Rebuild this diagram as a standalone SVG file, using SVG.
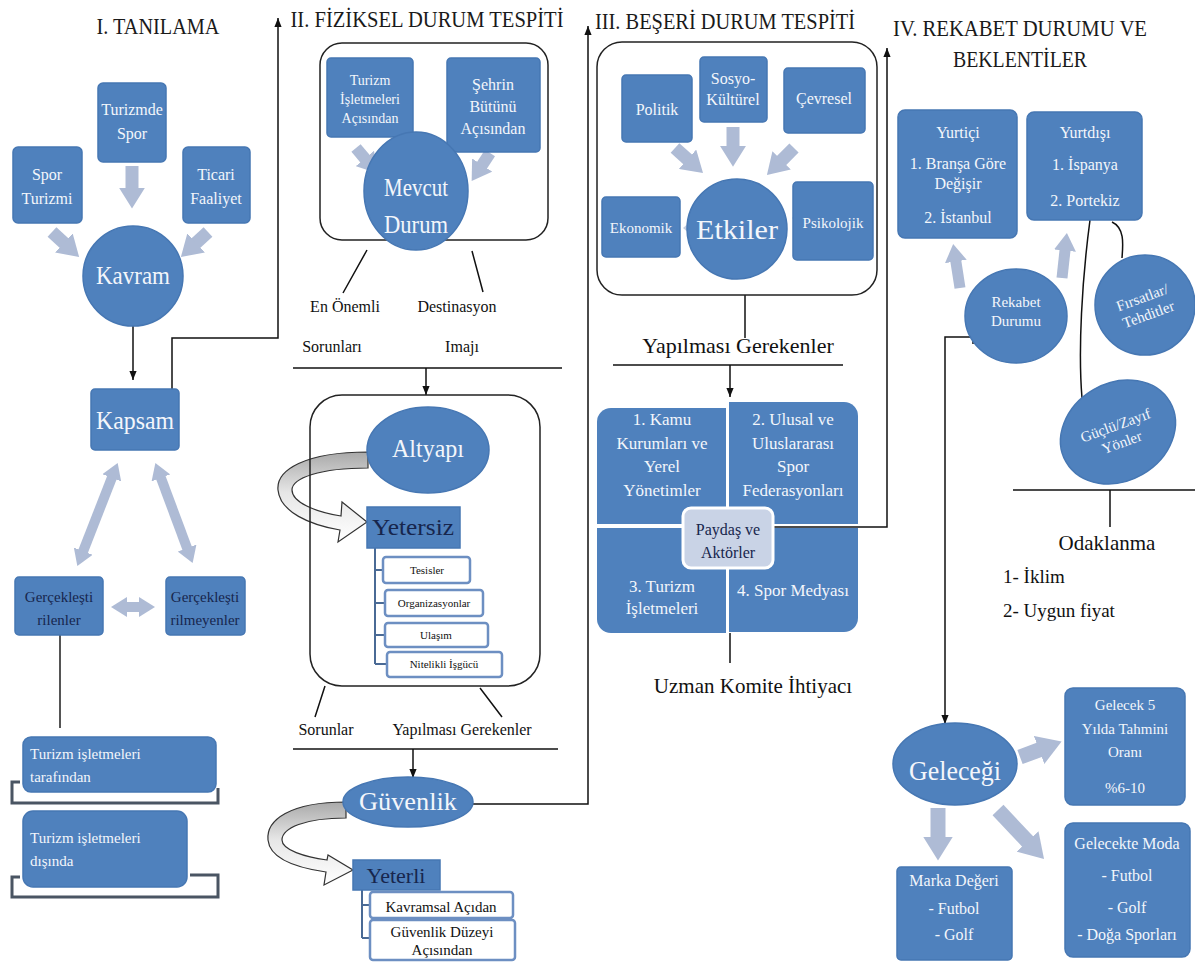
<svg xmlns="http://www.w3.org/2000/svg" width="1195" height="980" viewBox="0 0 1195 980">
<style>
.n{fill:#4f81bd;stroke:#4677b3;stroke-width:1.5}
.t{font-family:'Liberation Serif','Times New Roman',serif;fill:#f3f6fb;text-anchor:middle}
.l{text-anchor:start}
.d{fill:#17264d}
.k{fill:#111}
.h{font-family:'Liberation Serif','Times New Roman',serif;fill:#1a1a1a;text-anchor:middle;font-size:24px}
.ln{stroke:#111;stroke-width:1.5;fill:none}
.ga{stroke:#aebbd5;fill:none}
.cont{fill:none;stroke:#222;stroke-width:1.5}
.wb{fill:#fff;stroke:#6d8fc2;stroke-width:2.5}
.br{fill:none;stroke:#4a5563;stroke-width:3}
.bb{fill:none;stroke:#4a6a95;stroke-width:2}
.cv{fill:url(#cg);stroke:#333;stroke-width:1.2}
</style>
<defs>
<marker id="ah" viewBox="0 0 10 10" refX="10" refY="5" markerWidth="9" markerHeight="9" markerUnits="userSpaceOnUse" orient="auto"><path d="M0,1 L10,5 L0,9 z" fill="#111"/></marker>
<marker id="ga" viewBox="0 0 10 10" refX="0.5" refY="5" markerWidth="2" markerHeight="2" orient="auto-start-reverse"><path d="M0,0 L8,5 L0,10 z" fill="#aebbd5"/></marker>
<linearGradient id="cg" x1="0" y1="0" x2="0" y2="1"><stop offset="0" stop-color="#a9a9a9"/><stop offset="0.45" stop-color="#e6e6e6"/><stop offset="1" stop-color="#ffffff"/></linearGradient>
</defs>

<g id="titles">
<text class="h" x="158" y="34" textLength="123" lengthAdjust="spacingAndGlyphs">I. TANILAMA</text>
<text class="h" x="427" y="27" textLength="273" lengthAdjust="spacingAndGlyphs">II. FİZİKSEL DURUM TESPİTİ</text>
<text class="h" x="725" y="29" textLength="260" lengthAdjust="spacingAndGlyphs">III. BEŞERİ DURUM TESPİTİ</text>
<text class="h" x="1020" y="36" textLength="254" lengthAdjust="spacingAndGlyphs">IV. REKABET DURUMU VE</text>
<text class="h" x="1020" y="67" textLength="134" lengthAdjust="spacingAndGlyphs">BEKLENTİLER</text>
</g>

<g id="connectors">
<path class="ln" d="M133,326 V380" marker-end="url(#ah)"/>
<path class="ln" d="M172,389 V338 H278 V18" marker-end="url(#ah)"/>
<path class="ln" d="M473,804 H588 V26" marker-end="url(#ah)"/>
<path class="ln" d="M773,527 H887 V48" marker-end="url(#ah)"/>
<path class="ln" d="M973,330 V344 M973,337 H945 V724" marker-end="url(#ah)"/>
<path class="ln" d="M367,250 L343,293 M472,251 L483,292"/>
<path class="ln" d="M293,368 H562"/>
<path class="ln" d="M426,368 V395" marker-end="url(#ah)"/>
<path class="ln" d="M325,686 L315,717 M480,688 L502,717"/>
<path class="ln" d="M293,749 H558"/>
<path class="ln" d="M413,749 V778" marker-end="url(#ah)"/>
<path class="ln" d="M745,295 V338"/>
<path class="ln" d="M613,365 H843"/>
<path class="ln" d="M730,365 V397" marker-end="url(#ah)"/>
<path class="ln" d="M730,633 V663"/>
<path class="ln" d="M1090,220 C1082,280 1078,350 1082,398"/>
<path class="ln" d="M1112,222 C1125,228 1123,245 1122,258"/>
<path class="ln" d="M1013,490 H1195 M1110,490 V527"/>
<path d="M60,635 V728" stroke="#555" stroke-width="2" fill="none"/>
<path class="br" d="M20,782 H12 V803 H218 V788"/>
<path class="br" d="M20,877 H12 V897 H218 V875 H190"/>
<path class="bb" d="M375,548 V664 M375,570 H383 M375,603 H385 M375,635 H385 M375,664 H387"/>
<path class="bb" d="M362,890 V938 M362,905 H370 M362,938 H370"/>
<g class="ga">
<line x1="132" y1="166" x2="132" y2="189" stroke-width="13" marker-end="url(#ga)"/>
<line x1="52" y1="232" x2="64.8" y2="243.8" stroke-width="13" marker-end="url(#ga)"/>
<line x1="208" y1="232" x2="195.2" y2="243.8" stroke-width="13" marker-end="url(#ga)"/>
<line x1="112.2" y1="476.9" x2="82.8" y2="552.1" stroke-width="10" marker-start="url(#ga)" marker-end="url(#ga)"/>
<line x1="160.6" y1="477" x2="187.4" y2="549" stroke-width="10" marker-start="url(#ga)" marker-end="url(#ga)"/>
<line x1="126" y1="607" x2="140" y2="607" stroke-width="10" marker-start="url(#ga)" marker-end="url(#ga)"/>
<line x1="356" y1="148" x2="365.6" y2="159.4" stroke-width="12" marker-end="url(#ga)"/>
<line x1="490" y1="153" x2="481.5" y2="166" stroke-width="12" marker-end="url(#ga)"/>
<line x1="675" y1="148" x2="688.5" y2="160.1" stroke-width="13" marker-end="url(#ga)"/>
<line x1="733" y1="127" x2="733" y2="147.2" stroke-width="13" marker-end="url(#ga)"/>
<line x1="794" y1="148" x2="780.7" y2="161.3" stroke-width="13" marker-end="url(#ga)"/>
<line x1="960" y1="288" x2="955.7" y2="260.4" stroke-width="11" marker-end="url(#ga)"/>
<line x1="1062" y1="278" x2="1065.1" y2="249.5" stroke-width="11" marker-end="url(#ga)"/>
<line x1="1020" y1="757" x2="1040.5" y2="749.4" stroke-width="15" marker-end="url(#ga)"/>
<line x1="938" y1="808" x2="938" y2="838" stroke-width="15" marker-end="url(#ga)"/>
<line x1="998" y1="810" x2="1028.6" y2="842.5" stroke-width="15" marker-end="url(#ga)"/>
</g>
<polygon points="690,222 690,234 683,228" fill="#c3cde0"/>
<polygon points="799,212 799,224 792,218" fill="#c3cde0"/>
<path class="cv" d="M368,452 C305,452 276,470 278,490 C280,512 310,525 340,530 L338,542 L367,522 L342,502 L341,516 C315,512 292,502 292,490 C292,478 320,468 368,468 Z"/>
<path class="cv" d="M346,802 C290,802 266,820 268,840 C270,860 298,868 326,872 L324,885 L353,870 L328,855 L327,860 C305,857 282,850 282,840 C282,828 305,818 346,818 Z"/>
</g>

<g id="containers">
<rect class="cont" x="320" y="43" width="228" height="197" rx="22"/>
<rect class="cont" x="310" y="395" width="230" height="291" rx="32"/>
<rect class="cont" x="597" y="42" width="280" height="253" rx="25"/>
</g>

<g id="spor-turizmi"><rect class="n" x="13" y="147" width="69" height="76" rx="5"/><text class="t" font-size="16"><tspan x="47" y="180">Spor</tspan><tspan x="47" y="204">Turizmi</tspan></text></g>
<g id="turizmde-spor"><rect class="n" x="98" y="83" width="68" height="79" rx="5"/><text class="t" font-size="16"><tspan x="132" y="115">Turizmde</tspan><tspan x="132" y="139">Spor</tspan></text></g>
<g id="ticari"><rect class="n" x="183" y="147" width="67" height="76" rx="5"/><text class="t" font-size="16"><tspan x="216" y="180">Ticari</tspan><tspan x="216" y="204">Faaliyet</tspan></text></g>
<g id="kavram"><circle class="n" cx="133" cy="276" r="50"/><text class="t" x="133" y="284" font-size="25" textLength="74" lengthAdjust="spacingAndGlyphs">Kavram</text></g>
<g id="kapsam"><rect class="n" x="91" y="389" width="88" height="61" rx="4"/><text class="t" x="135" y="429" font-size="25" textLength="78" lengthAdjust="spacingAndGlyphs">Kapsam</text></g>
<g id="gerceklestirilenler"><rect class="n" x="15" y="577" width="88" height="58" rx="4"/><text class="t d" font-size="15"><tspan x="59" y="602">Gerçekleşti</tspan><tspan x="59" y="625">rilenler</tspan></text></g>
<g id="gerceklestirilmeyenler"><rect class="n" x="166" y="577" width="79" height="58" rx="4"/><text class="t d" font-size="15"><tspan x="205" y="602">Gerçekleşti</tspan><tspan x="205" y="625">rilmeyenler</tspan></text></g>
<g id="tarafindan"><rect class="n" x="23" y="737" width="193" height="55" rx="8"/><text class="t l" font-size="15"><tspan x="30" y="759">Turizm işletmeleri</tspan><tspan x="30" y="782">tarafından</tspan></text></g>
<g id="disinda"><rect class="n" x="23" y="811" width="164" height="76" rx="10"/><text class="t l" font-size="15"><tspan x="30" y="843">Turizm işletmeleri</tspan><tspan x="30" y="866">dışında</tspan></text></g>

<g id="turizm-isletmeleri"><rect class="n" x="327" y="58" width="86" height="79" rx="4"/><text class="t" font-size="14"><tspan x="370" y="85">Turizm</tspan><tspan x="370" y="104">İşletmeleri</tspan><tspan x="370" y="123">Açısından</tspan></text></g>
<g id="sehrin"><rect class="n" x="447" y="58" width="93" height="94" rx="4"/><text class="t" font-size="16"><tspan x="493" y="90">Şehrin</tspan><tspan x="493" y="112">Bütünü</tspan><tspan x="493" y="134">Açısından</tspan></text></g>
<g id="mevcut"><ellipse class="n" cx="416" cy="191" rx="52" ry="59"/><text class="t" x="416" y="196" font-size="25" textLength="64" lengthAdjust="spacingAndGlyphs">Mevcut</text><text class="t" x="416" y="233" font-size="25" textLength="64" lengthAdjust="spacingAndGlyphs">Durum</text></g>
<g id="labels-2">
<text class="t k" x="345" y="312" font-size="16">En Önemli</text>
<text class="t k" x="457" y="312" font-size="16">Destinasyon</text>
<text class="t k" x="332" y="352" font-size="16">Sorunları</text>
<text class="t k" x="462" y="352" font-size="16">Imajı</text>
<text class="t k" x="326" y="735" font-size="16">Sorunlar</text>
<text class="t k" x="462" y="735" font-size="16">Yapılması Gerekenler</text>
</g>
<g id="altyapi"><ellipse class="n" cx="428" cy="450" rx="61" ry="43"/><text class="t" x="428" y="457" font-size="25" textLength="72" lengthAdjust="spacingAndGlyphs">Altyapı</text></g>
<g id="yetersiz"><rect class="n" x="367" y="507" width="93" height="41"/><text class="t d" x="413" y="535" font-size="24" textLength="82" lengthAdjust="spacingAndGlyphs">Yetersiz</text></g>
<g id="tesisler"><rect class="wb" x="383" y="557" width="87" height="26" rx="3"/><text class="t k" x="427" y="574" font-size="11">Tesisler</text></g>
<g id="organizasyonlar"><rect class="wb" x="385" y="590" width="98" height="26" rx="3"/><text class="t k" x="434" y="607" font-size="11">Organizasyonlar</text></g>
<g id="ulasim"><rect class="wb" x="385" y="623" width="103" height="24" rx="3"/><text class="t k" x="436" y="639" font-size="11">Ulaşım</text></g>
<g id="nitelikli"><rect class="wb" x="387" y="652" width="115" height="25" rx="3"/><text class="t k" x="444" y="668" font-size="11">Nitelikli İşgücü</text></g>
<g id="guvenlik"><ellipse class="n" cx="408" cy="802" rx="65" ry="25"/><text class="t" x="408" y="810" font-size="25" textLength="98" lengthAdjust="spacingAndGlyphs">Güvenlik</text></g>
<g id="yeterli"><rect class="n" x="353" y="860" width="87" height="30"/><text class="t d" x="396" y="883" font-size="22">Yeterli</text></g>
<g id="kavramsal"><rect class="wb" x="370" y="892" width="143" height="26" rx="3"/><text class="t k" x="441" y="912" font-size="15">Kavramsal Açıdan</text></g>
<g id="guvenlik-duzeyi"><rect class="wb" x="370" y="920" width="145" height="40" rx="3"/><text class="t k" font-size="15"><tspan x="442" y="937">Güvenlik Düzeyi</tspan><tspan x="442" y="955">Açısından</tspan></text></g>

<g id="politik"><rect class="n" x="622" y="75" width="70" height="67" rx="4"/><text class="t" x="657" y="115" font-size="16">Politik</text></g>
<g id="sosyo"><rect class="n" x="700" y="57" width="67" height="65" rx="4"/><text class="t" font-size="16"><tspan x="733" y="84">Sosyo-</tspan><tspan x="733" y="105">Kültürel</tspan></text></g>
<g id="cevresel"><rect class="n" x="784" y="68" width="81" height="65" rx="4"/><text class="t" x="824" y="104" font-size="16">Çevresel</text></g>
<g id="ekonomik"><rect class="n" x="602" y="197" width="78" height="60" rx="4"/><text class="t" x="641" y="233" font-size="15">Ekonomik</text></g>
<g id="psikolojik"><rect class="n" x="793" y="182" width="80" height="78" rx="4"/><text class="t" x="833" y="228" font-size="15">Psikolojik</text></g>
<g id="etkiler"><circle class="n" cx="737" cy="229" r="50"/><text class="t" x="737" y="239" font-size="28" textLength="82" lengthAdjust="spacingAndGlyphs">Etkiler</text></g>
<g id="yapilmasi-3"><text class="t k" x="738" y="353" font-size="22">Yapılması Gerekenler</text></g>
<g id="paydaslar">
<path fill="#4f81bd" d="M611,408 H726 V524 H597 V422 A14,14 0 0 1 611,408 Z"/>
<path fill="#4f81bd" d="M729,402 H844 A14,14 0 0 1 858,416 V524 H729 Z"/>
<path fill="#4f81bd" d="M597,528 H726 V633 H611 A14,14 0 0 1 597,619 Z"/>
<path fill="#4f81bd" d="M729,528 H858 V618 A14,14 0 0 1 844,632 H729 Z"/>
<text class="t" font-size="17"><tspan x="662" y="425">1. Kamu</tspan><tspan x="662" y="449">Kurumları ve</tspan><tspan x="662" y="472">Yerel</tspan><tspan x="662" y="496">Yönetimler</tspan></text>
<text class="t" font-size="17"><tspan x="793" y="425">2. Ulusal ve</tspan><tspan x="793" y="449">Uluslararası</tspan><tspan x="793" y="472">Spor</tspan><tspan x="793" y="496">Federasyonları</tspan></text>
<text class="t" font-size="17"><tspan x="662" y="592">3. Turizm</tspan><tspan x="662" y="614">İşletmeleri</tspan></text>
<text class="t" x="793" y="596" font-size="17">4. Spor Medyası</text>
</g>
<g id="paydas-aktorler"><rect x="683" y="508" width="90" height="60" rx="8" fill="#c9d3e6" stroke="#ffffff" stroke-width="3"/><text class="t d" font-size="16"><tspan x="728" y="535">Paydaş ve</tspan><tspan x="728" y="558">Aktörler</tspan></text></g>
<g id="uzman"><text class="t k" x="753" y="693" font-size="21">Uzman Komite İhtiyacı</text></g>

<g id="yurtici"><rect class="n" x="898" y="110" width="119" height="128" rx="7"/><text class="t" font-size="16"><tspan x="958" y="138">Yurtiçi</tspan><tspan x="958" y="169">1. Branşa Göre</tspan><tspan x="958" y="189">Değişir</tspan><tspan x="958" y="223">2. İstanbul</tspan></text></g>
<g id="yurtdisi"><rect class="n" x="1027" y="112" width="115" height="108" rx="7"/><text class="t" font-size="16"><tspan x="1085" y="138">Yurtdışı</tspan><tspan x="1085" y="170">1. İspanya</tspan><tspan x="1085" y="206">2. Portekiz</tspan></text></g>
<g id="rekabet"><ellipse class="n" cx="1016" cy="316" rx="51" ry="47"/><text class="t" font-size="15"><tspan x="1016" y="307">Rekabet</tspan><tspan x="1016" y="326">Durumu</tspan></text></g>
<g id="firsatlar"><ellipse class="n" cx="1145" cy="305" rx="50" ry="50"/><text class="t" font-size="15" transform="rotate(-20 1145 305)"><tspan x="1145" y="302">Fırsatlar/</tspan><tspan x="1145" y="320">Tehditler</tspan></text></g>
<g id="guclu"><ellipse class="n" cx="1118" cy="432" rx="60" ry="49" transform="rotate(-30 1118 432)"/><text class="t" font-size="15" transform="rotate(-20 1118 432)"><tspan x="1118" y="430">Güçlü/Zayıf</tspan><tspan x="1118" y="448">Yönler</tspan></text></g>
<g id="odaklanma"><text class="t k" x="1107" y="550" font-size="21">Odaklanma</text><text class="t k l" font-size="19"><tspan x="1003" y="583">1- İklim</tspan><tspan x="1003" y="617">2- Uygun fiyat</tspan></text></g>
<g id="gelecegi"><ellipse class="n" cx="955" cy="764" rx="62" ry="41"/><text class="t" x="955" y="780" font-size="27" textLength="92" lengthAdjust="spacingAndGlyphs">Geleceği</text></g>
<g id="gelecek5"><rect class="n" x="1065" y="688" width="120" height="117" rx="8"/><text class="t" font-size="15"><tspan x="1125" y="710">Gelecek 5</tspan><tspan x="1125" y="734">Yılda Tahmini</tspan><tspan x="1125" y="757">Oranı</tspan><tspan x="1125" y="793">%6-10</tspan></text></g>
<g id="moda"><rect class="n" x="1065" y="823" width="125" height="134" rx="8"/><text class="t" font-size="16"><tspan x="1127" y="849">Gelecekte Moda</tspan><tspan x="1127" y="881">- Futbol</tspan><tspan x="1127" y="913">- Golf</tspan><tspan x="1127" y="940">- Doğa Sporları</tspan></text></g>
<g id="marka"><rect class="n" x="897" y="867" width="115" height="93" rx="4"/><text class="t" font-size="16"><tspan x="954" y="886">Marka Değeri</tspan><tspan x="954" y="914">- Futbol</tspan><tspan x="954" y="940">- Golf</tspan></text></g>
</svg>
